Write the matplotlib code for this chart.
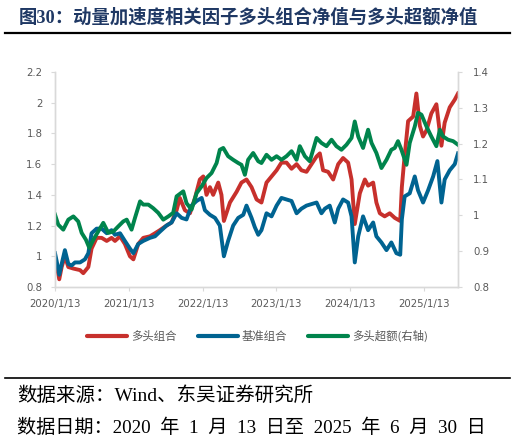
import matplotlib
matplotlib.use("Agg")
import matplotlib.pyplot as plt
import pandas as pd
from matplotlib.lines import Line2D

plt.rcParams["font.family"] = ["DejaVu Sans", "Noto Sans CJK SC"]

# 多头组合 (左轴)
long_dates = [
    "2020-01-13", "2020-02-03", "2020-02-15", "2020-03-02", "2020-03-19", "2020-04-13",
    "2020-05-16", "2020-06-01", "2020-06-26", "2020-07-12", "2020-08-06", "2020-08-31",
    "2020-09-25", "2020-10-19", "2020-11-05", "2020-11-30", "2020-12-24", "2021-01-18",
    "2021-02-04", "2021-02-28", "2021-03-25", "2021-04-27", "2021-05-22", "2021-06-15",
    "2021-07-18", "2021-08-12", "2021-09-06", "2021-09-22", "2021-10-17", "2021-11-11",
    "2021-12-06", "2021-12-30", "2022-01-16", "2022-02-01", "2022-02-18", "2022-03-06",
    "2022-03-31", "2022-04-16", "2022-04-28", "2022-05-28", "2022-06-30", "2022-07-24",
    "2022-08-18", "2022-09-12", "2022-10-07", "2022-10-31", "2022-11-25", "2022-12-20",
    "2023-01-14", "2023-02-07", "2023-03-04", "2023-03-29", "2023-04-23", "2023-05-17",
    "2023-06-11", "2023-07-06", "2023-07-31", "2023-08-16", "2023-09-01", "2023-09-26",
    "2023-10-21", "2023-11-15", "2023-12-09", "2024-01-03", "2024-01-20", "2024-02-05",
    "2024-03-01", "2024-03-26", "2024-04-11", "2024-05-06", "2024-05-22", "2024-06-08",
    "2024-07-02", "2024-07-27", "2024-08-21", "2024-09-17", "2024-09-25", "2024-10-05",
    "2024-10-26", "2024-11-20", "2024-12-06", "2024-12-23", "2025-01-08", "2025-01-25",
    "2025-02-18", "2025-03-15", "2025-04-09", "2025-04-25", "2025-05-20", "2025-06-14",
    "2025-06-30",
]
long_nav = [
    1.00, 0.85, 0.93, 1.00, 0.93, 0.92,
    0.91, 0.89, 0.93, 1.05, 1.12, 1.12,
    1.10, 1.12, 1.10, 1.13, 1.08, 1.00,
    0.98, 1.08, 1.12, 1.13, 1.15, 1.17,
    1.20, 1.22, 1.30, 1.38, 1.30, 1.28,
    1.38, 1.50, 1.52, 1.40, 1.45, 1.40,
    1.48, 1.40, 1.23, 1.35, 1.42, 1.48,
    1.50, 1.45, 1.37, 1.35, 1.48, 1.52,
    1.56, 1.61, 1.61, 1.57, 1.60, 1.56,
    1.55, 1.60, 1.65, 1.67, 1.56, 1.55,
    1.50, 1.60, 1.64, 1.61, 1.50, 1.21,
    1.41, 1.50, 1.46, 1.48, 1.35, 1.28,
    1.26, 1.28, 1.25, 1.23, 1.45, 1.60,
    1.88, 1.91, 2.06, 1.85, 1.78, 1.82,
    1.93, 1.99, 1.72, 1.87, 1.97, 2.02,
    2.06,
]

# 基准组合 (左轴)
bench_dates = [
    "2020-01-13", "2020-01-21", "2020-02-03", "2020-02-15", "2020-03-02", "2020-03-19",
    "2020-04-04", "2020-04-21", "2020-05-16", "2020-06-09", "2020-06-26", "2020-07-12",
    "2020-08-06", "2020-08-31", "2020-09-25", "2020-10-19", "2020-11-05", "2020-11-30",
    "2020-12-24", "2021-01-18", "2021-02-04", "2021-02-28", "2021-03-25", "2021-04-27",
    "2021-05-22", "2021-06-15", "2021-07-18", "2021-08-12", "2021-09-06", "2021-10-01",
    "2021-10-25", "2021-11-19", "2021-12-14", "2022-01-08", "2022-01-24", "2022-02-18",
    "2022-03-15", "2022-04-08", "2022-04-28", "2022-05-19", "2022-06-13", "2022-07-08",
    "2022-08-02", "2022-08-18", "2022-09-12", "2022-09-28", "2022-10-15", "2022-10-31",
    "2022-11-25", "2022-12-20", "2023-01-14", "2023-02-07", "2023-03-04", "2023-03-29",
    "2023-04-23", "2023-05-17", "2023-06-11", "2023-07-06", "2023-07-31", "2023-08-24",
    "2023-09-10", "2023-10-04", "2023-10-29", "2023-11-15", "2023-12-09", "2024-01-03",
    "2024-01-20", "2024-02-05", "2024-02-22", "2024-03-17", "2024-04-11", "2024-05-06",
    "2024-05-22", "2024-06-16", "2024-07-11", "2024-08-04", "2024-08-29", "2024-09-17",
    "2024-09-25", "2024-10-09", "2024-11-03", "2024-11-28", "2024-12-14", "2025-01-08",
    "2025-02-02", "2025-02-27", "2025-03-20", "2025-04-09", "2025-04-25", "2025-05-20",
    "2025-06-14", "2025-06-30",
]
bench_nav = [
    1.02, 0.97, 0.88, 0.95, 1.04, 0.95,
    0.94, 0.96, 0.96, 0.98, 1.02, 1.15,
    1.18, 1.18, 1.15, 1.17, 1.14, 1.15,
    1.10, 1.05, 1.02, 1.08, 1.10, 1.12,
    1.13, 1.16, 1.20, 1.22, 1.28, 1.25,
    1.24, 1.33, 1.36, 1.38, 1.30, 1.27,
    1.25, 1.20, 1.00, 1.10, 1.20, 1.25,
    1.27, 1.33, 1.25, 1.19, 1.14, 1.17,
    1.28, 1.26, 1.33, 1.38, 1.37, 1.36,
    1.28, 1.31, 1.33, 1.34, 1.35, 1.28,
    1.31, 1.33, 1.22, 1.31, 1.37, 1.35,
    1.26, 0.96, 1.13, 1.26, 1.17, 1.22,
    1.13, 1.09, 1.04, 1.09, 1.02, 1.01,
    1.24, 1.39, 1.41, 1.52, 1.43, 1.35,
    1.43, 1.52, 1.62, 1.35, 1.50, 1.56,
    1.60, 1.67,
]

# 多头超额 (右轴)
excess_dates = [
    "2020-01-13", "2020-01-29", "2020-02-23", "2020-03-19", "2020-04-13", "2020-05-07",
    "2020-05-24", "2020-06-14", "2020-07-01", "2020-07-21", "2020-08-14", "2020-09-08",
    "2020-10-03", "2020-10-28", "2020-11-21", "2020-12-16", "2021-01-02", "2021-01-26",
    "2021-02-12", "2021-03-09", "2021-03-25", "2021-04-19", "2021-05-13", "2021-06-07",
    "2021-07-02", "2021-07-27", "2021-08-20", "2021-09-06", "2021-10-09", "2021-10-25",
    "2021-11-19", "2021-12-14", "2022-01-08", "2022-02-01", "2022-02-26", "2022-03-23",
    "2022-04-08", "2022-04-25", "2022-05-19", "2022-06-13", "2022-07-08", "2022-07-24",
    "2022-08-10", "2022-08-26", "2022-09-20", "2022-10-15", "2022-10-31", "2022-11-25",
    "2022-12-20", "2023-01-14", "2023-02-07", "2023-03-04", "2023-03-29", "2023-04-23",
    "2023-05-09", "2023-06-03", "2023-06-27", "2023-07-31", "2023-08-24", "2023-09-18",
    "2023-10-13", "2023-11-06", "2023-12-01", "2023-12-26", "2024-01-20", "2024-02-05",
    "2024-02-22", "2024-03-17", "2024-04-11", "2024-04-28", "2024-05-22", "2024-06-16",
    "2024-07-11", "2024-08-04", "2024-08-21", "2024-09-06", "2024-09-23", "2024-10-18",
    "2024-11-03", "2024-11-28", "2024-12-14", "2024-12-31", "2025-01-25", "2025-02-18",
    "2025-03-15", "2025-04-01", "2025-04-17", "2025-05-12", "2025-06-06", "2025-06-30",
]
excess_nav = [
    1.002, 0.974, 0.960, 0.988, 0.997, 0.983,
    0.951, 0.932, 0.909, 0.932, 0.955, 0.979,
    0.951, 0.955, 0.969, 0.983, 0.988, 0.960,
    0.993, 1.039, 1.030, 1.030, 1.020, 1.007,
    0.988, 0.997, 1.007, 1.053, 1.067, 1.034,
    1.016, 1.062, 1.081, 1.104, 1.118, 1.146,
    1.183, 1.188, 1.165, 1.155, 1.146, 1.141,
    1.113, 1.155, 1.174, 1.151, 1.146, 1.169,
    1.155, 1.165, 1.155, 1.165, 1.179, 1.155,
    1.193, 1.165, 1.151, 1.216, 1.202, 1.193,
    1.211, 1.193, 1.183, 1.197, 1.216, 1.262,
    1.220, 1.188, 1.239, 1.202, 1.174, 1.132,
    1.155, 1.183, 1.188, 1.207, 1.183, 1.141,
    1.202, 1.248, 1.286, 1.281, 1.248, 1.220,
    1.193, 1.239, 1.220, 1.211, 1.207, 1.197,
]

xtick_dates = ["2020-01-13", "2021-01-13", "2022-01-13", "2023-01-13", "2024-01-13", "2025-01-13"]
xtick_labels = ["2020/1/13", "2021/1/13", "2022/1/13", "2023/1/13", "2024/1/13", "2025/1/13"]
left_ticks = [0.8, 1.0, 1.2, 1.4, 1.6, 1.8, 2.0, 2.2]
right_ticks = [0.8, 0.9, 1.0, 1.1, 1.2, 1.3, 1.4]

c_red = "#C7302C"
c_blue = "#006391"
c_green = "#00844C"
c_axis = "#D9D9D9"
c_text = "#595959"
cjk = ["Noto Sans CJK SC", "DejaVu Sans"]
serif_cjk = ["Liberation Serif", "Noto Sans CJK SC"]

fig = plt.figure(figsize=(5.15, 4.41), dpi=100)
ax = fig.add_axes([55 / 515, 1 - 287 / 441, 403 / 515, 215 / 441])
ax2 = ax.twinx()

ax.plot(pd.to_datetime(long_dates), long_nav, color=c_red, lw=2.8, solid_joinstyle="round")
ax.plot(pd.to_datetime(bench_dates), bench_nav, color=c_blue, lw=2.8, solid_joinstyle="round")
ax2.plot(pd.to_datetime(excess_dates), excess_nav, color=c_green, lw=2.8, solid_joinstyle="round")

ax.set_xlim(pd.Timestamp("2020-01-13"), pd.Timestamp("2025-06-30"))
ax.set_ylim(0.8, 2.2)
ax2.set_ylim(0.8, 1.4)
ax.set_yticks(left_ticks)
ax.set_yticklabels(["0.8", "1", "1.2", "1.4", "1.6", "1.8", "2", "2.2"])
ax2.set_yticks(right_ticks)
ax2.set_yticklabels(["0.8", "0.9", "1", "1.1", "1.2", "1.3", "1.4"])
ax.set_xticks(pd.to_datetime(xtick_dates))
ax.set_xticklabels(xtick_labels)

for a in (ax, ax2):
    for s in a.spines.values():
        s.set_color(c_axis)
        s.set_linewidth(1.0)
    a.spines["top"].set_visible(False)
    a.tick_params(colors=c_axis, labelcolor=c_text, labelsize=7.3, length=3, width=0.8)
ax.tick_params(axis="y", pad=6)
ax2.tick_params(axis="y", pad=8)
ax.tick_params(axis="x", pad=6)

handles = [
    Line2D([], [], color=c_red, lw=3, solid_capstyle="round"),
    Line2D([], [], color=c_blue, lw=3, solid_capstyle="round"),
    Line2D([], [], color=c_green, lw=3, solid_capstyle="round"),
]
fig.legend(handles, ["多头组合", "基准组合", "多头超额(右轴)"], loc="center",
           bbox_to_anchor=(0.5, 1 - 336 / 441), ncol=3, frameon=False,
           prop={"family": cjk, "size": 8.2}, labelcolor=c_text,
           handlelength=3.5, handletextpad=0.35, columnspacing=1.85)

fig.text(19 / 515, 1 - 17 / 441, "图30：动量加速度相关因子多头组合净值与多头超额净值",
         family=serif_cjk, fontweight="bold", fontsize=13.2, color="#1F3864", va="center")
fig.add_artist(Line2D([5 / 515, 510 / 515], [1 - 33 / 441] * 2, color="black", lw=1.6))
fig.add_artist(Line2D([5 / 515, 510 / 515], [1 - 378 / 441] * 2, color="black", lw=1.2))
fig.text(17 / 515, 1 - 396 / 441, "数据来源：Wind、东吴证券研究所",
         family=serif_cjk, fontsize=14, color="black", va="center")
fig.text(17 / 515, 1 - 428 / 441,
         "数据日期：2020\u2002年\u20021\u2002月\u200213\u2002日至\u20022025\u2002年\u20026\u2002月\u200230\u2002日",
         family=serif_cjk, fontsize=13.8, color="black", va="center")

fig.savefig("out.png", dpi=100)
